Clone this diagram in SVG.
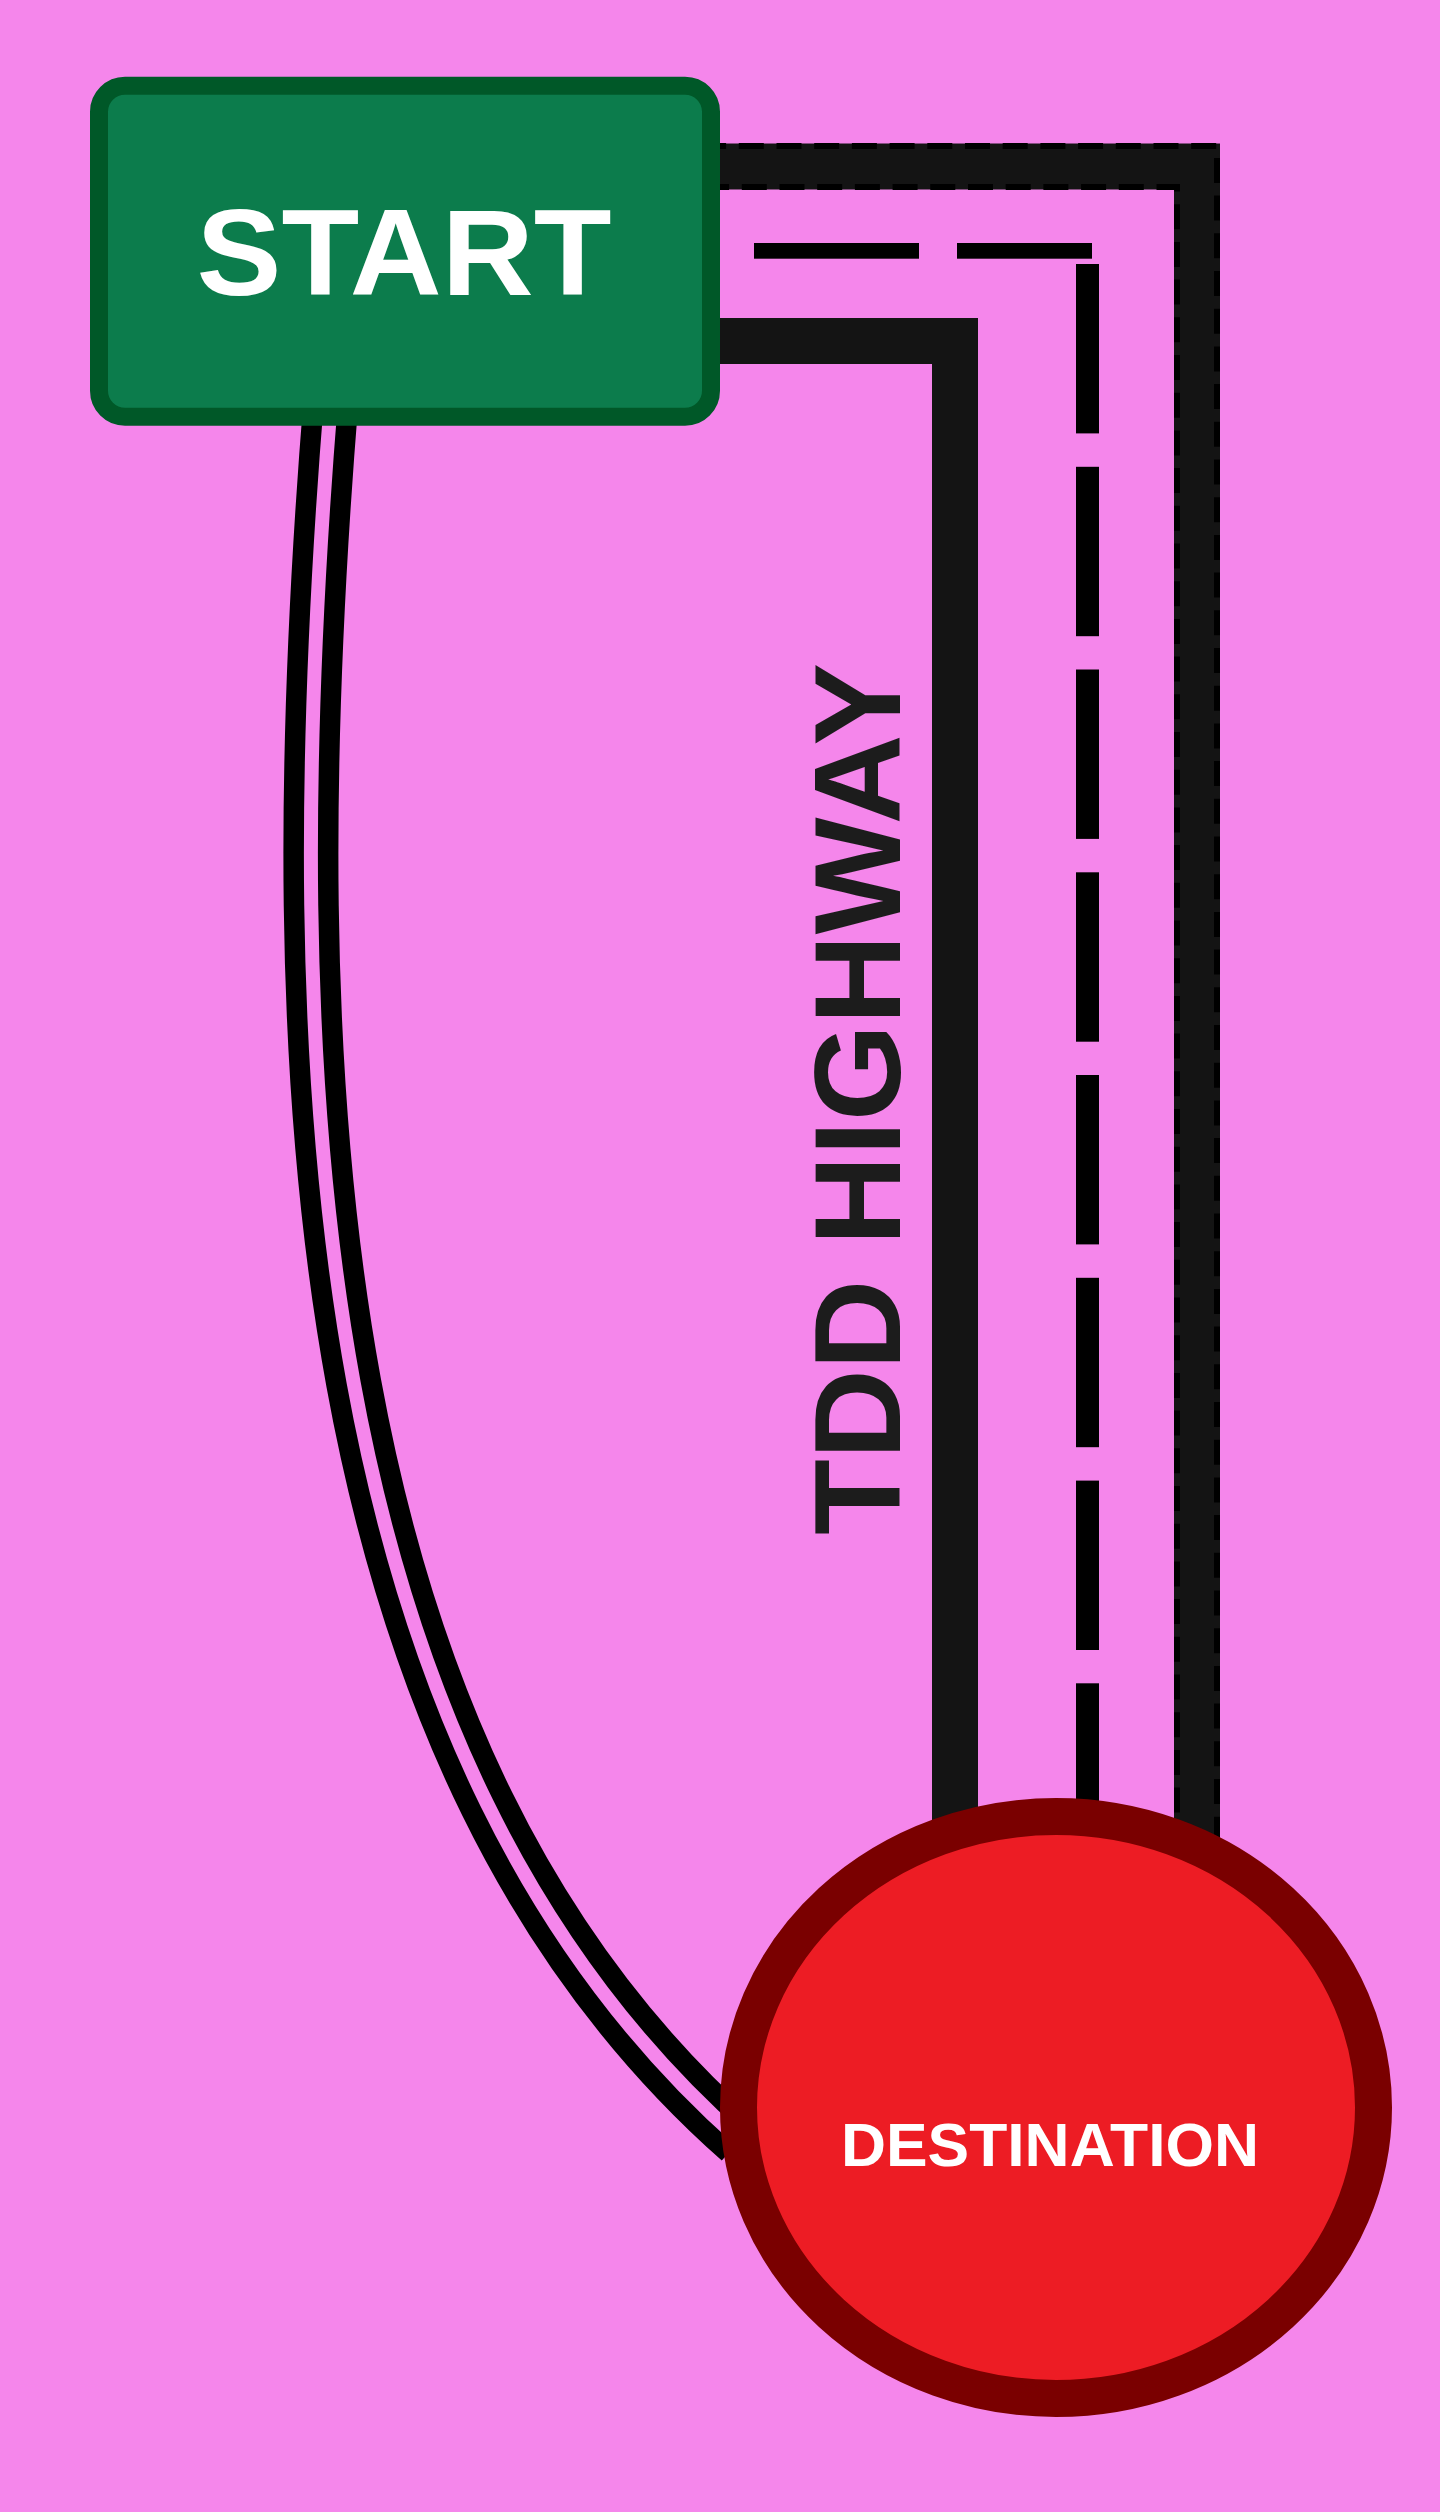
<svg xmlns="http://www.w3.org/2000/svg" width="1440" height="2512" viewBox="0 0 1440 2512">
  <style>
    .band { fill: none; stroke: #141414; stroke-width: 46; stroke-linejoin: miter; }
    .edge { fill: none; stroke: #000000; stroke-width: 6; stroke-dasharray: 25 12.7; }
    .lane { fill: #000000; }
    .curve-outer { fill: none; stroke: #000000; stroke-width: 55; }
    .curve-inner { fill: none; stroke: #f586eb; stroke-width: 14; }
    .label { font-family: "Liberation Sans", Arial, sans-serif; font-weight: bold; }
  </style>
  <rect x="0" y="0" width="1440" height="2512" fill="#f586eb"/>

  <g id="connectors">
    <path class="band" d="M 587 166.5 H 1197 V 1960"/>
    <path class="edge" d="M 587 146 H 1217 V 1960" stroke-dashoffset="-1"/>
    <path class="edge" d="M 587 187 H 1177 V 1960" stroke-dashoffset="-4"/>
    <path class="band" d="M 587 341 H 955 V 1960"/>
    <g id="lane-marks">
      <rect class="lane" x="754" y="243" width="165" height="15.7"/>
      <rect class="lane" x="957" y="243" width="135" height="15.7"/>
      <rect class="lane" x="1076" y="264" width="23" height="169.4"/>
      <rect class="lane" x="1076" y="466.8" width="23" height="169.4"/>
      <rect class="lane" x="1076" y="669.5" width="23" height="169.4"/>
      <rect class="lane" x="1076" y="872.3" width="23" height="169.4"/>
      <rect class="lane" x="1076" y="1075" width="23" height="169.4"/>
      <rect class="lane" x="1076" y="1277.8" width="23" height="169.4"/>
      <rect class="lane" x="1076" y="1480.6" width="23" height="169.4"/>
      <rect class="lane" x="1076" y="1683.3" width="23" height="169.4"/>
    </g>
    <path class="curve-outer" d="M 331 400 C 276 1080, 310 1760, 740 2140"/>
    <path class="curve-inner" d="M 331 400 C 276 1080, 310 1760, 740 2140"/>
    <text id="highway-label" class="label" font-size="123" fill="#1c1c1c" text-anchor="middle" textLength="872" lengthAdjust="spacingAndGlyphs" transform="translate(900 1099) rotate(-90)">TDD HIGHWAY</text>
  </g>

  <g id="start">
    <rect x="99" y="85.7" width="612" height="331" rx="26" ry="26" fill="#0c7c4c" stroke="#005828" stroke-width="18"/>
    <text class="label" x="404" y="295" font-size="123" fill="#ffffff" text-anchor="middle" textLength="415" lengthAdjust="spacingAndGlyphs">START</text>
  </g>

  <g id="destination">
    <ellipse cx="1056" cy="2107.5" rx="317.5" ry="291" fill="#ed1c24" stroke="#7a0000" stroke-width="37"/>
    <text class="label" x="1050" y="2165.5" font-size="61" fill="#ffffff" text-anchor="middle" textLength="418" lengthAdjust="spacingAndGlyphs">DESTINATION</text>
  </g>
</svg>
